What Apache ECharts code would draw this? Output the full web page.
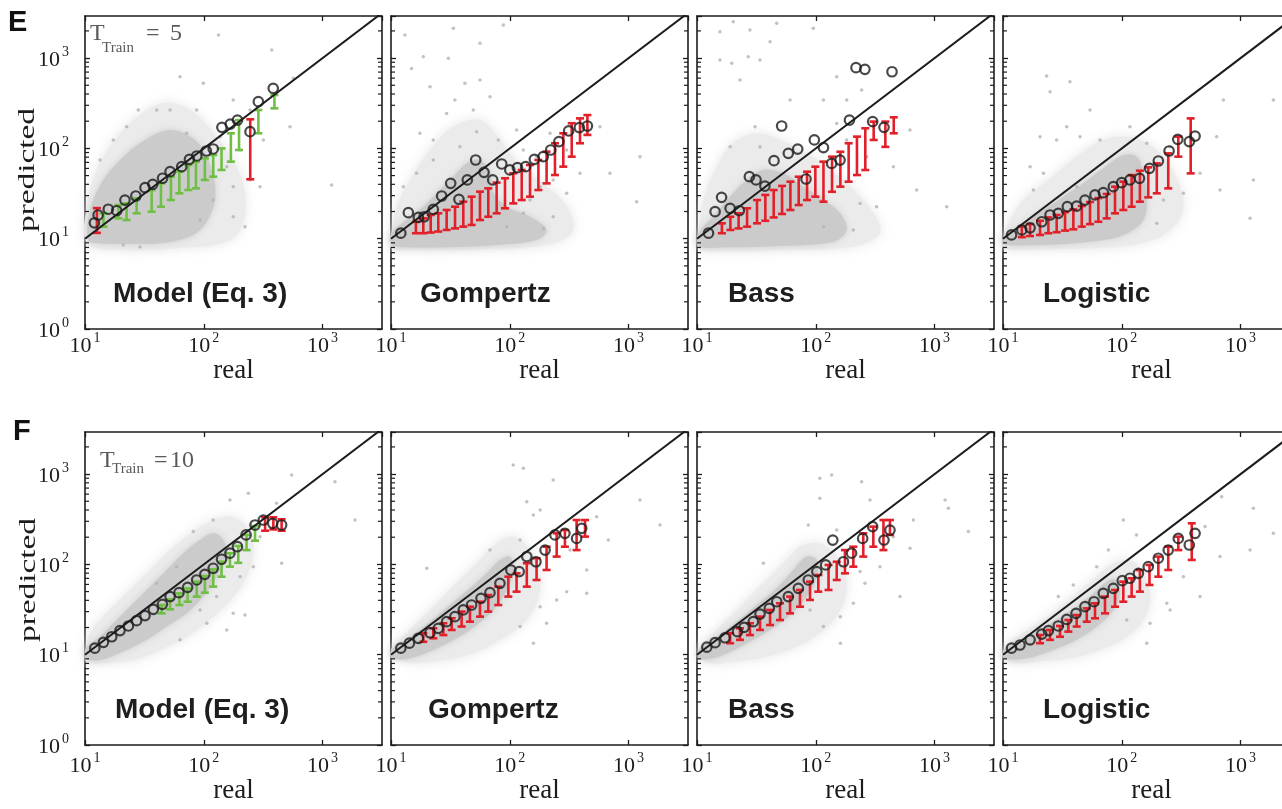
<!DOCTYPE html>
<html>
<head>
<meta charset="utf-8">
<script src="https://cdn.jsdelivr.net/npm/echarts@6/dist/echarts.min.js"></script>
<style>
  html, body { margin: 0; padding: 0; background: #ffffff; }
  #chart { width: 1282px; height: 809px; }
</style>
</head>
<body>
<div id="chart"></div>
<script>
// ---------- labels ----------
const modelNames = ['Model (Eq. 3)', 'Gompertz', 'Bass', 'Logistic'];
const rowLetters = ['E', 'F'];
const trainWindows = ['5', '10'];
const yMinorTicks = [2, 3, 4, 5, 6, 7, 8, 9, 20, 30, 40, 50, 60, 70, 80, 90,
                     200, 300, 400, 500, 600, 700, 800, 900, 2000];

// ---------- row E (T_Train = 5) ----------
// binned means: [real, predicted]
const circlesE1 = [[12,15],[12.9,18.3],[15.7,21.2],[18.5,20.4],[21.7,26.8],[26.8,29.7],[32,36.7],[37.2,40],[45,46.7],[52,55.2],[65.2,62.7],[75.7,75.7],[87.3,82.4],[105,93.6],[120,98.5],[142,171],[167,186],[192,206],[245,153],[288,329],[384,463]];
// error bars: [real, low, high]
const greenE1 = [[14.3,13.6,19.1],[19.1,16.8,23.6],[22.4,16.1,24.6],[27.2,19.1,28],[36.4,19.9,34.6],[43.6,22.6,41],[52.9,26.8,48.6],[62.2,31.8,55.2],[74.1,34.6,65.5],[85.9,36.1,71.3],[102,44.7,77.6],[120,48.6,84.5],[141,57.7,100],[169,71.3,147],[198,96,206],[288,147,266],[393,278,390]];
const redE1 = [[12.6,11.6,21.8],[246,45.5,210]];
// outline of the dense core of individual predictions, and of the looser halo around it
const coreE1 = [[10.6,9.68],[10.8,18.3],[13.4,39.3],[19.7,74.4],[32,124],[51.9,160],[84.3,124],[113,65.5],[124,26.8],[92.9,12.5],[51.9,9.19],[19.7,8.73],[12.1,8.96]];
const haloE1 = [[10.4,8.96],[10.4,23.6],[12.6,57.7],[17.9,124],[29,234],[47.1,318],[76.6,266],[124,141],[202,50.7],[222,18.3],[166,9.68],[63.1,7.89],[19.7,7.5]];
// scattered individual predictions
const dotsE1 = [[133,1800],[373,1230],[63,623],[567,598],[99,525],[177,344],[40.1,266],[28.1,266],[87,266],[245,266],[532,174],[137,135],[317,124],[1191,39.3],[202,96],[71.7,147],[156,62.7],[245,44.7],[120,26.8],[177,17.5],[222,13.6],[93,16.1],[21,8.5],[29,8.1],[177,37.7],[297,37.7],[17.3,124],[22.4,174],[13.4,74.3],[52,266]];

const circlesE2 = [[12.1,11.5],[14,19.4],[17,17.2],[19,17.5],[22.7,21.1],[26.7,29.7],[31.8,41],[37.3,27.3],[43.9,44.7],[51.6,74.4],[60.7,54.3],[71.8,44.7],[85.5,67.2],[100,57.7],[116,61.2],[136,62.8],[161,75.7],[191,81],[221,96],[259,119],[313,156],[385,170],[450,177]];
const greenE2 = [];
const redE2 = [[16.2,11.5,15.4],[18.7,11.5,16.8],[21.6,11.7,18.3],[25,12,19.1],[29.4,12.5,20.8],[34.6,13,22.6],[40.6,13.6,25.7],[47.7,14.2,29.2],[56.1,16.1,33.2],[65.9,17.5,36.1],[77.5,19.1,41.8],[91.1,21.7,46.7],[107,24.6,53],[126,26.8,57.7],[148,29.2,65.5],[174,34.6,74.4],[204,41,92],[240,50.7,114],[282,62.8,147],[332,81,190],[390,114,215],[450,141,234]];
const coreE2 = [[10.1,8.51],[10.1,11.5],[13.5,16.1],[18.7,22.6],[25.8,34.6],[33.5,48.6],[43.3,68.2],[56.1,74.3],[68.1,52.9],[72.7,31.8],[94,22.6],[148,17.5],[204,12.5],[168,9.67],[77.5,8.51],[29.4,8.02],[13.5,8.02]];
const haloE2 = [[10.1,11.5],[11.2,22.6],[14.5,44.7],[21.3,96],[33.5,174],[56.1,206],[82.6,124],[122,62.7],[204,37.7],[301,22.6],[342,12.5],[232,8.87],[56.1,7.62],[15.4,7.5],[10.1,7.82]];
const dotsE2 = [[13.1,1800],[33.5,2135],[88.2,2325],[14.9,769],[21.3,482],[30.4,994],[41.9,525],[56.1,572],[34.5,344],[49.3,266],[29.4,244],[17.5,147],[22.7,124],[68.1,373],[52.6,153],[38,104],[80,124],[114,160],[130,96],[168,81],[218,147],[301,96],[390,52.9],[574,174],[697,52.9],[1247,81],[1168,25.7],[232,44.7],[301,31.8],[180,37.7],[148,26.8],[232,17.5],[192,13],[130,19.1],[94,13.6],[22.7,74.3],[16.4,52.9],[12.7,37.7],[18.7,1035],[56.1,1456]];

const circlesE3 = [[12.5,11.5],[14.2,19.9],[16.1,28.7],[19,21.7],[22.7,20.4],[27.6,48.6],[31.4,44.7],[37.3,38.3],[44.5,73.1],[51.6,177],[58.7,88.1],[70.4,98.4],[82.7,45.8],[97.2,124],[116,102],[136,68.2],[160,74.3],[192,206],[218,784],[259,750],[301,198],[375,171],[438,706]];
const greenE3 = [];
const redE3 = [[16.2,11.5,14.8],[19.1,12.5,17.5],[22.4,13,19.1],[26.4,13.6,21.7],[32,14.8,26.8],[37.6,15.8,30.5],[44.2,17.2,34.6],[52,18.8,38.4],[61.1,20.8,42.8],[71.8,23.6,48.6],[84.4,26.8,55.2],[99.1,29.2,62.7],[116,25.7,71.3],[137,33.1,81],[161,37.7,91.8],[189,42.8,114],[222,50.7,135],[261,57.6,167],[307,124,198],[385,104,198],[453,147,221]];
const coreE3 = [[10.3,8.3],[10.3,11.5],[13.7,17.5],[19,29.2],[26.2,44.7],[36.2,57.6],[53.3,52.9],[78.5,37.7],[116,26.8],[160,19.1],[182,12.5],[141,9.27],[50,8.3],[19,8.02]];
const haloE3 = [[10.3,11.5],[11.3,26.8],[14.7,62.7],[20.2,114],[31.8,147],[50,124],[83.8,88.1],[132,57.6],[207,34.6],[305,19.1],[347,11.5],[207,8.2],[50,7.5],[13.7,7.37],[10.3,7.82]];
const dotsE3 = [[15.6,1963],[20.2,2530],[27.9,2047],[46.9,2427],[95.3,2135],[19.6,875],[27,1035],[33.9,953],[41.2,1521],[15.6,953],[23,572],[60.7,344],[30.8,174],[19,104],[33.9,104],[116,344],[150,623],[182,344],[243,443],[150,189],[182,124],[268,81],[450,62.7],[621,160],[706,34.6],[1265,22.6],[236,24.6],[325,22.6],[116,13.6],[207,12.5]];

const circlesE4 = [[11.8,11],[14.4,12.5],[16.9,13.2],[21.2,15.4],[24.9,18.3],[29.2,19.1],[34.8,22.6],[41.7,23],[49,26.8],[59.5,30.5],[69.9,32.3],[84.9,37.7],[99.8,41.7],[117,44.7],[141,46.6],[171,60.1],[203,72.5],[250,93.6],[296,126],[370,119],[414,137]];
const greenE4 = [];
const redE4 = [[14.4,10.4,13.6],[16.9,10.7,14.5],[20.5,11,15.8],[24.1,11.5,17.2],[28.3,11.8,18.3],[33.3,12.3,19.7],[39.1,12.7,21.1],[46,13.6,23],[54,14.5,25.5],[63.5,15.4,28.2],[74.6,16.8,31.3],[87.7,19.1,37.7],[103,20.8,42.8],[121,22.6,50.7],[142,25.7,56.6],[167,28.7,61.7],[197,31.8,68.2],[246,36.1,88.1],[299,81,135],[380,52.9,215]];
const coreE4 = [[10.1,8.73],[10.1,10.4],[14.8,14.8],[21.9,20.8],[32.2,29.2],[47.5,41],[69.9,60.1],[103,84.5],[134,81],[152,52.9],[162,29.2],[152,16.1],[103,11],[54,9.27],[20.5,8.51]];
const haloE4 = [[10.1,10.4],[11.5,16.1],[14.8,26.8],[20.5,37.7],[28.3,52.9],[41.7,81],[61.5,114],[90.6,135],[142,124],[210,88.1],[290,44.7],[330,22.6],[255,12.5],[142,8.87],[54,7.82],[14.8,7.65],[10.1,7.82]];
const dotsE4 = [[23.3,634],[36.6,548],[24.9,425],[54,266],[34.4,174],[44.5,135],[65.6,124],[20.5,135],[28.3,124],[16.9,62.7],[21.9,52.9],[18,34.6],[117,174],[162,114],[255,104],[716,344],[1888,344],[1282,44.7],[1202,16.8],[671,34.6],[456,52.9],[330,31.8],[224,26.8],[197,14.8],[41.7,37.7],[84.9,31.8],[629,135]];

// ---------- row F (T_Train = 10) ----------
const circlesF1 = [[12.1,11.8],[14.3,13.7],[16.8,15.8],[19.7,18.5],[23.2,20.8],[27.2,23.8],[32,27.1],[37.6,31.8],[44.8,36.1],[52,44],[61.8,48.6],[73.1,55.7],[87.1,67.2],[102,77.6],[120,90.6],[141,114],[166,133],[192,157],[227,212],[270,273],[317,310],[380,285],[452,273]];
const greenF1 = [[44.2,28.7,35.5],[52,31.8,41],[62.3,35.5,47.8],[73.1,38.6,54.3],[87.1,44,64.4],[102,48.6,74.4],[120,56.7,88.1],[141,73.1,107],[166,94.4,133],[195,104,160],[229,144,212],[270,183,266]];
const redF1 = [[328,236,332],[385,244,332],[452,236,316]];
const coreF1 = [[10.2,9.12],[10.2,11.8],[13.4,15.8],[18.5,24.2],[25.5,37.1],[35.3,56.7],[48.7,86.7],[67.3,133],[92.9,186],[120,221],[146,186],[156,122],[128,73.1],[99.1,44],[71.7,28.7],[48.7,20.5],[33.1,14.6],[22.4,11.3],[15.2,9.12],[12.1,8.59]];
const haloF1 = [[10.2,11.8],[11,17.3],[15.2,28.7],[22.4,47.8],[33.1,79.6],[48.7,133],[71.7,203],[106,285],[166,338],[229,262],[261,144],[229,73.1],[177,44],[120,26.4],[71.7,15.8],[42.8,11.3],[25.5,8.73],[13.4,8.03],[10.2,8.37]];
const dotsF1 = [[549,977],[1271,824],[1874,310],[237,612],[166,516],[120,310],[81.6,231],[410,474],[452,103],[261,94.4],[202,73.1],[128,44],[177,28.7],[222,27.5],[156,18.8],[106,22.3],[63.1,14.6],[92.9,31.3],[297,203],[59.1,94.4],[40.1,61.7]];

const circlesF2 = [[12.1,11.8],[14.3,13.4],[17,15.2],[21.3,17.5],[25,19.6],[29.4,23.2],[34.5,26.4],[40.6,31.3],[47.7,35.5],[57.2,42.1],[68.1,48.6],[82.6,61.7],[102,86.7],[120,83.2],[139,122],[166,107],[198,144],[240,212],[291,221],[365,194],[403,251]];
const greenF2 = [];
const redF2 = [[18.7,13.9,17.3],[22.7,15.2,19.6],[27.6,16.5,22.3],[32.4,18.8,25.3],[39.3,20.5,30],[46.2,23.2,34],[56.1,26.4,38.6],[65.9,30,45.8],[80,35.5,56.7],[97.2,44,73.1],[114,49.9,79.6],[139,56.7,103],[168,67.2,117],[204,86.7,157],[248,122,221],[291,157,240],[365,144,310],[430,203,310]];
const coreF2 = [[10.1,9.12],[10.1,11.3],[14.5,15.8],[21.3,23.2],[31.4,35.5],[46.2,54.3],[63.8,79.6],[82.6,112],[100,122],[107,86.7],[94.1,52.1],[72.7,31.3],[52.6,21.3],[35.7,15.2],[22.7,11.3],[14.5,9.12]];
const haloF2 = [[10.1,11.3],[11.9,14.6],[17.5,24.2],[25.8,40.4],[38,67.2],[56.1,112],[77.5,171],[107,203],[148,144],[180,73.1],[168,37.1],[130,22.3],[82.6,14.6],[49.3,10.4],[25.8,8.59],[13.5,8.37]];
const dotsF2 = [[107,1262],[130,1159],[232,861],[139,495],[158,352],[122,186],[180,401],[538,338],[675,186],[1247,516],[1837,273],[444,86.7],[248,40.4],[301,49.9],[180,34],[204,22.3],[158,13.4],[122,20.5],[444,47.8],[20,90.6],[68.1,144],[321,144]];

const circlesF3 = [[12.1,12.1],[14.2,13.6],[17.2,15.4],[21.9,18],[24.9,20.1],[29.8,23.2],[33.9,28.2],[40.6,32.6],[46.9,38.6],[58.7,44],[71.3,54.3],[86.5,67.2],[102,83.2],[121,98.6],[139,186],[171,107],[200,133],[248,194],[301,262],[375,186],[421,240]];
const greenF3 = [];
const redF3 = [[19,13.4,17.3],[23,14.6,19.6],[27.9,16.5,22.3],[33.9,18.8,26.4],[41.2,21.3,31.3],[50,24.2,37.1],[60.7,28.7,44],[73.6,34,52.1],[89.4,40.4,64.4],[105,49.9,76.4],[128,52.1,98.6],[150,67.2,107],[176,79.6,144],[207,94.4,157],[251,122,221],[305,157,262],[371,144,310],[421,212,310]];
const coreF3 = [[10.3,9.12],[10.3,11.1],[14.7,15.8],[21.6,23.2],[31.8,35.5],[46.9,54.3],[64.7,86.7],[83.8,122],[102,112],[102,73.1],[83.8,44],[60.7,27.5],[41.2,18.8],[26.2,13.4],[16.7,9.93],[12.1,8.89]];
const haloF3 = [[10.3,11.3],[12.1,14.6],[17.8,24.2],[26.2,40.4],[38.6,67.2],[56.9,112],[73.6,157],[108,171],[150,122],[182,61.7],[161,31.3],[116,18.8],[69,12.3],[38.6,9.5],[20.2,8.37],[12.1,8.24]];
const dotsF3 = [[108,897],[136,977],[243,824],[108,539],[286,516],[86.5,273],[150,240],[663,310],[621,151],[1225,516],[1306,418],[1923,231],[450,203],[512,44],[236,83.2],[259,61.7],[207,37.1],[161,26.4],[161,13.4],[116,20.5],[89.4,31.3],[347,94.4],[36.2,103]];

const circlesF4 = [[11.8,11.8],[13.9,12.8],[16.9,14.6],[21.2,16.9],[24.1,18.5],[29.2,20.8],[34.4,24.6],[41.2,28.7],[49,34],[58.4,38.6],[69.9,47.8],[84.9,54.3],[101,66.1],[117,70.2],[138,79.6],[167,94.4],[203,117],[246,144],[299,194],[370,164],[414,221]];
const greenF4 = [];
const redF4 = [[20.5,13.4,16.5],[24.9,14.6,18.8],[30.2,15.8,20.8],[35.5,18,24.2],[41.7,20.5,27.5],[50.7,23.2,32.6],[59.5,25.3,37.1],[72.2,28.7,44],[87.7,34,52.1],[103,38.6,64.4],[121,44,70.2],[142,49.9,86.7],[171,59.2,98.6],[203,73.1,122],[246,86.7,157],[299,144,203],[388,112,285]];
const coreF4 = [[10.1,9.12],[10.1,11.1],[14.8,14.8],[23.3,20.8],[36.6,30],[54,44],[74.6,64.4],[90.6,67.2],[96.6,47.8],[84.9,31.3],[61.5,20.5],[41.7,14.6],[26.5,11.3],[15.8,9.12]];
const haloF4 = [[10.1,11.1],[12.2,14.6],[18,20.5],[28.3,31.3],[41.7,47.8],[61.5,73.1],[84.9,103],[117,112],[152,79.6],[173,44],[152,24.2],[110,15.8],[65.6,11.3],[36.6,9.12],[19.2,8.37],[11.5,8.24]];
const dotsF4 = [[103,310],[133,212],[77.1,144],[693,562],[1282,418],[1888,221],[1202,144],[671,122],[502,262],[456,44],[239,37.1],[173,22.3],[162,13.4],[110,24.2],[39.1,59.2],[29.2,44],[255,31.3],[330,73.1],[61.5,94.4]];

const panels = [
  { circles: circlesE1, green: greenE1, red: redE1, core: coreE1, halo: haloE1, dots: dotsE1 },
  { circles: circlesE2, green: greenE2, red: redE2, core: coreE2, halo: haloE2, dots: dotsE2 },
  { circles: circlesE3, green: greenE3, red: redE3, core: coreE3, halo: haloE3, dots: dotsE3 },
  { circles: circlesE4, green: greenE4, red: redE4, core: coreE4, halo: haloE4, dots: dotsE4 },
  { circles: circlesF1, green: greenF1, red: redF1, core: coreF1, halo: haloF1, dots: dotsF1 },
  { circles: circlesF2, green: greenF2, red: redF2, core: coreF2, halo: haloF2, dots: dotsF2 },
  { circles: circlesF3, green: greenF3, red: redF3, core: coreF3, halo: haloF3, dots: dotsF3 },
  { circles: circlesF4, green: greenF4, red: redF4, core: coreF4, halo: haloF4, dots: dotsF4 }
];

// ---------- layout & style ----------
const SERIF = '"Liberation Serif", "Times New Roman", serif';
const SANS = '"Liberation Sans", Arial, sans-serif';
const INK = '#1c1c1c';
const X_MIN = 10, X_MAX = 3162.28, Y_MIN = 1, Y_MAX = 2925;
const panelLefts = [85, 391, 697, 1003];
const rowTops = [16, 432];
const PANEL_W = 297, PANEL_H = 313;
const rowStyle = [
  { labelMargin: 2, nameGap: 21 },
  { labelMargin: 6, nameGap: 30 }
];

function powerLabel(v) {
  const lg = Math.log10(v);
  const e = Math.round(lg);
  if (Math.abs(lg - e) > 1e-6) return '';
  return '{b|10}{s|' + e + '}';
}
const tickRich = {
  b: { fontFamily: SERIF, fontSize: 22, color: INK, lineHeight: 26, verticalAlign: 'bottom' },
  s: { fontFamily: SERIF, fontSize: 14, color: INK, lineHeight: 14, verticalAlign: 'top', padding: [0, 0, 0, 2] }
};

function errorBarSeries(gi, data, color) {
  return {
    type: 'custom', xAxisIndex: gi * 2, yAxisIndex: gi * 2, data: data,
    encode: { x: 0, y: [1, 2] }, z: 3, silent: true,
    renderItem: function (params, api) {
      const x = api.value(0);
      const lo = api.coord([x, api.value(1)]);
      const hi = api.coord([x, api.value(2)]);
      const cw = 4;
      const st = { stroke: color, lineWidth: 2.6 };
      return {
        type: 'group', children: [
          { type: 'line', shape: { x1: lo[0], y1: lo[1], x2: hi[0], y2: hi[1] }, style: st },
          { type: 'line', shape: { x1: lo[0] - cw, y1: lo[1], x2: lo[0] + cw, y2: lo[1] }, style: st },
          { type: 'line', shape: { x1: hi[0] - cw, y1: hi[1], x2: hi[0] + cw, y2: hi[1] }, style: st }
        ]
      };
    }
  };
}

// filled, soft-edged outline of a region of the point cloud
function cloudSeries(gi, verts, fill, edge, blur, z) {
  return {
    type: 'custom', xAxisIndex: gi * 2, yAxisIndex: gi * 2, data: verts,
    encode: { x: 0, y: 1 }, z: z, silent: true,
    renderItem: function (params, api) {
      if (params.dataIndex !== 0) return null;
      const pts = verts.map(function (v) { return api.coord(v); });
      return {
        type: 'polygon',
        shape: { points: pts, smooth: 0.35 },
        style: { fill: fill, shadowBlur: blur, shadowColor: edge }
      };
    }
  };
}

function minorTickSeries(gi) {
  return {
    type: 'custom', xAxisIndex: gi * 2, yAxisIndex: gi * 2,
    data: yMinorTicks.map(function (v) { return [X_MIN, v]; }),
    encode: { x: 0, y: 1 }, z: 8, silent: true, clip: false,
    renderItem: function (params, api) {
      const cs = params.coordSys;
      const y = api.coord([X_MIN, api.value(1)])[1];
      if (y < cs.y - 0.5 || y > cs.y + cs.height + 0.5) return null;
      const st = { stroke: INK, lineWidth: 1.2 };
      return {
        type: 'group', children: [
          { type: 'line', shape: { x1: cs.x, y1: y, x2: cs.x + 4, y2: y }, style: st },
          { type: 'line', shape: { x1: cs.x + cs.width - 4, y1: y, x2: cs.x + cs.width, y2: y }, style: st }
        ]
      };
    }
  };
}

const grid = [], xAxis = [], yAxis = [], series = [];
const graphic = [];

panels.forEach(function (p, gi) {
  const row = Math.floor(gi / 4), col = gi % 4;
  grid.push({
    left: panelLefts[col], top: rowTops[row], width: PANEL_W, height: PANEL_H,
    containLabel: false, outerBoundsMode: 'none'
  });
  const axisLine = { show: true, onZero: false, lineStyle: { color: INK, width: 1.6 } };
  const axisTick = { show: true, inside: true, length: 5, lineStyle: { color: INK, width: 1.3 } };
  xAxis.push({
    gridIndex: gi, type: 'log', logBase: 10, min: X_MIN, max: X_MAX, position: 'bottom',
    axisLine: axisLine, axisTick: axisTick, splitLine: { show: false },
    axisLabel: { formatter: powerLabel, rich: tickRich, margin: rowStyle[row].labelMargin, showMaxLabel: false },
    name: 'real', nameLocation: 'middle', nameGap: rowStyle[row].nameGap,
    nameTextStyle: { fontFamily: SERIF, fontSize: 27, color: INK }
  });
  xAxis.push({
    gridIndex: gi, type: 'log', logBase: 10, min: X_MIN, max: X_MAX, position: 'top',
    axisLine: axisLine, axisTick: axisTick, splitLine: { show: false }, axisLabel: { show: false }
  });
  yAxis.push({
    gridIndex: gi, type: 'log', logBase: 10, min: Y_MIN, max: Y_MAX, position: 'left',
    axisLine: axisLine, axisTick: axisTick, splitLine: { show: false },
    axisLabel: { show: col === 0, formatter: powerLabel, rich: tickRich, margin: 16, showMaxLabel: false }
  });
  yAxis.push({
    gridIndex: gi, type: 'log', logBase: 10, min: Y_MIN, max: Y_MAX, position: 'right',
    axisLine: axisLine, axisTick: axisTick, splitLine: { show: false }, axisLabel: { show: false }
  });

  series.push(cloudSeries(gi, p.halo, '#ebebeb', 'rgba(225,225,225,0.9)', 12, 1));
  series.push(cloudSeries(gi, p.core, '#cbcbcb', 'rgba(200,200,200,0.85)', 6, 1.5));
  series.push({
    type: 'scatter', xAxisIndex: gi * 2, yAxisIndex: gi * 2, data: p.dots,
    symbol: 'circle', symbolSize: 3.5, itemStyle: { color: '#b3b3b3' }, z: 2, silent: true
  });
  series.push(minorTickSeries(gi));
  if (p.green.length) series.push(errorBarSeries(gi, p.green, '#6fbf45'));
  if (p.red.length) series.push(errorBarSeries(gi, p.red, '#e2202a'));
  series.push({
    type: 'line', xAxisIndex: gi * 2, yAxisIndex: gi * 2,
    data: [[X_MIN, X_MIN], [X_MAX, X_MAX]], symbol: 'none', clip: true,
    lineStyle: { color: INK, width: 2 }, z: 4, silent: true
  });
  series.push({
    type: 'scatter', xAxisIndex: gi * 2, yAxisIndex: gi * 2, data: p.circles,
    symbol: 'circle', symbolSize: 9.5,
    itemStyle: { color: 'rgba(0,0,0,0)', borderColor: INK, borderWidth: 2.2 }, z: 5, silent: true
  });

  // model name inside each panel
  const nameOffsets = row === 0 ? [28, 29, 31, 40] : [30, 37, 31, 40];
  graphic.push({
    type: 'text', left: panelLefts[col] + nameOffsets[col], top: rowTops[row] + 264,
    style: { text: modelNames[col], font: 'bold 28px ' + SANS, fill: '#1e1e1e' }
  });
});

// y-axis title of the first column, one per row
const predictedCenters = [[28, 170], [29, 580]];
predictedCenters.forEach(function (c) {
  graphic.push({
    type: 'text', x: c[0], y: c[1], rotation: Math.PI / 2, scaleX: 1.45,
    style: { text: 'predicted', font: '23px ' + SERIF, fill: INK, align: 'center', verticalAlign: 'middle' }
  });
});

// row letters and training window annotations
const letterPos = [[8, 8], [13, 417]];
rowLetters.forEach(function (l, r) {
  graphic.push({
    type: 'text', left: letterPos[r][0], top: letterPos[r][1],
    style: { text: l, font: 'bold 29px ' + SANS, fill: '#111' }
  });
});
const tPos = [
  { t: [90, 22], sub: [102, 41], eq: [146, 22], val: [170, 22] },
  { t: [100, 449], sub: [112, 462], eq: [154, 449], val: [170, 449] }
];
trainWindows.forEach(function (w, r) {
  const q = tPos[r];
  const gray = '#5a5a5a';
  graphic.push({ type: 'text', left: q.t[0], top: q.t[1], style: { text: 'T', font: '24px ' + SERIF, fill: gray } });
  graphic.push({ type: 'text', left: q.sub[0], top: q.sub[1], style: { text: 'Train', font: '15px ' + SERIF, fill: gray } });
  graphic.push({ type: 'text', left: q.eq[0], top: q.eq[1], style: { text: '=', font: '24px ' + SERIF, fill: gray } });
  graphic.push({ type: 'text', left: q.val[0], top: q.val[1], style: { text: w, font: '24px ' + SERIF, fill: gray } });
});

const chart = echarts.init(document.getElementById('chart'), null, { renderer: 'canvas' });
chart.setOption({
  animation: false,
  backgroundColor: '#ffffff',
  grid: grid,
  xAxis: xAxis,
  yAxis: yAxis,
  series: series,
  graphic: graphic
});
</script>
</body>
</html>
